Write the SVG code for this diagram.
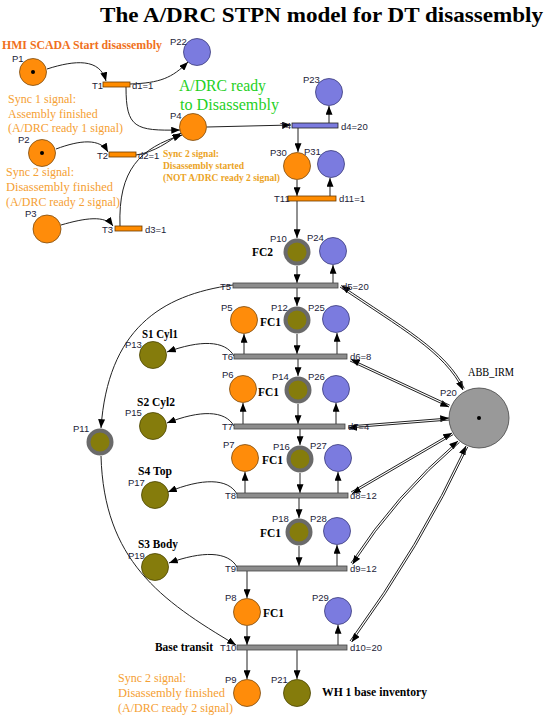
<svg xmlns="http://www.w3.org/2000/svg" width="550" height="719" viewBox="0 0 550 719">
<defs>
<marker id="ah" viewBox="0 0 10 8" markerWidth="9" markerHeight="7" refX="10" refY="4" markerUnits="userSpaceOnUse" orient="auto-start-reverse">
<path d="M0,0 L10,4 L0,8 z" fill="#000"/>
</marker>
<style>
.lbl{font-family:"Liberation Sans",Arial,sans-serif;font-size:9.5px;fill:#1c1c38}
.or{fill:#ff8c0a;stroke:#7a4a10;stroke-width:0.8}
.bl{fill:#7b7bdf;stroke:#3a3a7a;stroke-width:0.8}
.ol{fill:#857c0c;stroke:#4a4400;stroke-width:0.8}
.olt{fill:#857c0c;stroke:#6a6a6a;stroke-width:4}
.gr{fill:#999;stroke:#444;stroke-width:0.8}
.tor{fill:#ff8c00;stroke:#6b3a00;stroke-width:0.8}
.tbl{fill:#7b7bdf;stroke:#222;stroke-width:0.8}
.tgr{fill:#8c8c8c;stroke:#444;stroke-width:0.8}
.tok{fill:#000}
.c{fill:none;stroke:#222;stroke-width:1;marker-end:url(#ah)}
.cr{fill:none;stroke:#222;stroke-width:1;marker-start:url(#ah)}
.sb{font-family:"Liberation Serif","Times New Roman",serif;font-weight:bold;fill:#000}
.sync{font-family:"Liberation Serif","Times New Roman",serif;font-size:12px;fill:#f5a033}
</style>
</defs>
<rect width="550" height="719" fill="#fff"/>

<text x="100" y="22" class="sb" font-size="21" textLength="443" lengthAdjust="spacingAndGlyphs">The A/DRC STPN model for DT disassembly</text>

<g id="annotations">
<text x="2" y="49" font-family="Liberation Serif,serif" font-weight="bold" font-size="12" fill="#f07020" textLength="160" lengthAdjust="spacingAndGlyphs">HMI SCADA Start disassembly</text>
<text class="sync" x="8" y="103">Sync 1 signal:</text>
<text class="sync" x="8" y="117.5">Assembly finished</text>
<text class="sync" x="8" y="132" textLength="115" lengthAdjust="spacingAndGlyphs">(A/DRC ready 1 signal)</text>
<text class="sync" x="6" y="176">Sync 2 signal:</text>
<text class="sync" x="6" y="191" textLength="107" lengthAdjust="spacingAndGlyphs">Disassembly finished</text>
<text class="sync" x="6" y="206" textLength="114" lengthAdjust="spacingAndGlyphs">(A/DRC ready 2 signal)</text>
<text x="179" y="91" font-family="Liberation Serif,serif" font-size="16" fill="#1fd01f" textLength="87" lengthAdjust="spacingAndGlyphs">A/DRC ready</text>
<text x="180" y="110" font-family="Liberation Serif,serif" font-size="16" fill="#1fd01f" textLength="99" lengthAdjust="spacingAndGlyphs">to Disassembly</text>
<text x="163" y="157" font-family="Liberation Serif,serif" font-weight="bold" font-size="9.5" fill="#eba325">Sync 2 signal:</text>
<text x="163" y="169" font-family="Liberation Serif,serif" font-weight="bold" font-size="9.5" fill="#eba325">Disassembly started</text>
<text x="163" y="181" font-family="Liberation Serif,serif" font-weight="bold" font-size="9.5" fill="#eba325" textLength="117" lengthAdjust="spacingAndGlyphs">(NOT A/DRC ready 2 signal)</text>
<text class="sb" x="252" y="256" font-size="11.5">FC2</text>
<text class="sb" x="260" y="326" font-size="11.5">FC1</text>
<text class="sb" x="258" y="396" font-size="11.5">FC1</text>
<text class="sb" x="262" y="464" font-size="11.5">FC1</text>
<text class="sb" x="260" y="537" font-size="11.5">FC1</text>
<text class="sb" x="263" y="617" font-size="11.5">FC1</text>
<text class="sb" x="142" y="338" font-size="11.5" textLength="36" lengthAdjust="spacingAndGlyphs">S1 Cyl1</text>
<text class="sb" x="137" y="406" font-size="11.5" textLength="38" lengthAdjust="spacingAndGlyphs">S2 Cyl2</text>
<text class="sb" x="138" y="475" font-size="11.5" textLength="34" lengthAdjust="spacingAndGlyphs">S4 Top</text>
<text class="sb" x="138" y="548" font-size="11.5" textLength="40" lengthAdjust="spacingAndGlyphs">S3 Body</text>
<text class="sb" x="155" y="651" font-size="11.5" textLength="58" lengthAdjust="spacingAndGlyphs">Base transit</text>
<text class="sb" x="322" y="696" font-size="11.5" textLength="105" lengthAdjust="spacingAndGlyphs">WH 1 base inventory</text>
<text x="468" y="376" font-family="Liberation Serif,serif" font-size="11.5" fill="#000" textLength="46" lengthAdjust="spacingAndGlyphs">ABB_IRM</text>
<text class="sync" x="118" y="682">Sync 2 signal:</text>
<text class="sync" x="118" y="697" textLength="107" lengthAdjust="spacingAndGlyphs">Disassembly finished</text>
<text class="sync" x="118" y="712" textLength="115" lengthAdjust="spacingAndGlyphs">(A/DRC ready 2 signal)</text>
</g>

<g id="connectors">
<path class="c" d="M47,69 C75,60 100,58 106,81"/>
<path class="c" d="M130,84 C160,83 172,78 188,62"/>
<path class="c" d="M126,87 C126,128 135,131 180,130"/>
<path class="c" d="M56,149 C80,140 100,138 108,152"/>
<path class="c" d="M136,155 C155,152 168,142 181,133"/>
<path class="c" d="M61,225 C85,218 105,215 113,226"/>
<path class="c" d="M120,226 C118,170 140,148 182,135"/>
<path class="c" d="M207,127 L291,125"/>
<path class="c" d="M329,123 L329,106"/>
<path class="c" d="M298,128 L298,152"/>
<path class="c" d="M297,180 L297,196"/>
<path class="c" d="M330,196 L330,178"/>
<path class="c" d="M297,201 L297,238"/>
<path class="c" d="M297,266 L297,283"/>
<path class="c" d="M333,283 L333,265"/>
<path class="c" d="M297,288 L297,306"/>
<path class="c" d="M233,285 C160,295 108,330 101,428"/>
<path class="c" d="M101,456 C104,560 160,600 236,645"/>
<path class="c" d="M234,356 C225,340 200,340 167,352"/>
<path class="c" d="M244,354 L244,334"/>
<path class="c" d="M337,354 L337,333"/>
<path class="c" d="M297,334 L297,354"/>
<path class="c" d="M298,359 L298,376"/>
<path class="c" d="M234,426 C225,410 200,410 167,423"/>
<path class="c" d="M243,424 L243,403"/>
<path class="c" d="M336,424 L336,403"/>
<path class="c" d="M298,404 L298,424"/>
<path class="c" d="M300,429 L300,445"/>
<path class="c" d="M237,494 C228,478 202,478 168,492"/>
<path class="c" d="M245,493 L245,472"/>
<path class="c" d="M338,493 L338,472"/>
<path class="c" d="M300,473 L300,493"/>
<path class="c" d="M299,498 L299,518"/>
<path class="c" d="M237,567 C228,551 202,551 169,563"/>
<path class="c" d="M337,566 L337,545"/>
<path class="c" d="M299,546 L299,566"/>
<path class="c" d="M247,571 L247,598"/>
<path class="c" d="M247,626 L247,645"/>
<path class="c" d="M338,645 L338,625"/>
<path class="c" d="M247,650 L247,679"/>
<path class="c" d="M297,650 L297,679"/>
<path class="c" d="M340,287 C400,328 445,352 463,390"/>
<path class="cr" d="M340,287 C400,328 445,352 463,390" transform="translate(1.3,-1.5)"/>
<path class="c" d="M350,361 L449,407"/>
<path class="cr" d="M350,361 L449,407" transform="translate(0.8,-1.8)"/>
<path class="c" d="M348,426 L449,418"/>
<path class="cr" d="M348,426 L449,418" transform="translate(0.2,2)"/>
<path class="c" d="M351,492 L452,433"/>
<path class="cr" d="M351,492 L452,433" transform="translate(1,1.7)"/>
<path class="c" d="M351,563 Q395,495 458,441"/>
<path class="cr" d="M351,563 Q395,495 458,441" transform="translate(1.5,1.3)"/>
<path class="c" d="M350,641 Q420,545 466,446"/>
<path class="cr" d="M350,641 Q420,545 466,446" transform="translate(1.7,1)"/>
</g>

<g id="P1"><circle class="or" cx="33" cy="72" r="13.5"/><circle class="tok" cx="33" cy="72" r="2"/><text class="lbl" x="12" y="62">P1</text></g>
<g id="P22"><circle class="bl" cx="197" cy="52" r="13.5"/><text class="lbl" x="170" y="45">P22</text></g>
<g id="P4"><circle class="or" cx="193" cy="127" r="13.5"/><text class="lbl" x="170" y="119">P4</text></g>
<g id="P2"><circle class="or" cx="42" cy="153" r="13.5"/><circle class="tok" cx="42" cy="153" r="2"/><text class="lbl" x="18" y="143">P2</text></g>
<g id="P3"><circle class="or" cx="47" cy="229" r="14"/><text class="lbl" x="25" y="217">P3</text></g>
<g id="P23"><circle class="bl" cx="329" cy="92" r="13.5"/><text class="lbl" x="303" y="83">P23</text></g>
<g id="P30"><circle class="or" cx="297" cy="166" r="13.5"/><text class="lbl" x="270" y="156">P30</text></g>
<g id="P31"><circle class="bl" cx="331" cy="164" r="13.5"/><text class="lbl" x="304" y="155">P31</text></g>
<g id="P10"><circle class="olt" cx="297" cy="252" r="11.5"/><text class="lbl" x="270" y="242">P10</text></g>
<g id="P24"><circle class="bl" cx="333" cy="251" r="13.5"/><text class="lbl" x="307" y="241">P24</text></g>
<g id="P5"><circle class="or" cx="244" cy="320" r="13.5"/><text class="lbl" x="221" y="311">P5</text></g>
<g id="P12"><circle class="olt" cx="297" cy="320" r="11.5"/><text class="lbl" x="271" y="311">P12</text></g>
<g id="P25"><circle class="bl" cx="336" cy="319" r="13.5"/><text class="lbl" x="308" y="311">P25</text></g>
<g id="P13"><circle class="ol" cx="153" cy="355" r="13.5"/><text class="lbl" x="125" y="348">P13</text></g>
<g id="P6"><circle class="or" cx="243" cy="389" r="13.5"/><text class="lbl" x="222" y="378">P6</text></g>
<g id="P14"><circle class="olt" cx="298" cy="390" r="11.5"/><text class="lbl" x="272" y="380">P14</text></g>
<g id="P26"><circle class="bl" cx="336" cy="389" r="13.5"/><text class="lbl" x="308" y="380">P26</text></g>
<g id="P15"><circle class="ol" cx="153" cy="426" r="13.5"/><text class="lbl" x="125" y="416">P15</text></g>
<g id="P7"><circle class="or" cx="245" cy="458" r="13.5"/><text class="lbl" x="223" y="448">P7</text></g>
<g id="P16"><circle class="olt" cx="300" cy="459" r="11.5"/><text class="lbl" x="273" y="450">P16</text></g>
<g id="P27"><circle class="bl" cx="338" cy="458" r="13.5"/><text class="lbl" x="310" y="449">P27</text></g>
<g id="P11"><circle class="olt" cx="100" cy="442" r="11.5"/><text class="lbl" x="73" y="432">P11</text></g>
<g id="P17"><circle class="ol" cx="155" cy="495" r="13.5"/><text class="lbl" x="128" y="486">P17</text></g>
<g id="P18"><circle class="olt" cx="299" cy="532" r="11.5"/><text class="lbl" x="272" y="522">P18</text></g>
<g id="P28"><circle class="bl" cx="337" cy="531" r="13.5"/><text class="lbl" x="310" y="522">P28</text></g>
<g id="P19"><circle class="ol" cx="155" cy="567" r="13.5"/><text class="lbl" x="128" y="559">P19</text></g>
<g id="P8"><circle class="or" cx="247" cy="612" r="13.5"/><text class="lbl" x="225" y="601">P8</text></g>
<g id="P29"><circle class="bl" cx="338" cy="611" r="13.5"/><text class="lbl" x="312" y="601">P29</text></g>
<g id="P9"><circle class="or" cx="247" cy="693" r="13.5"/><text class="lbl" x="225" y="683">P9</text></g>
<g id="P21"><circle class="ol" cx="297" cy="693" r="13.5"/><text class="lbl" x="271" y="683">P21</text></g>
<g id="P20"><circle class="gr" cx="479" cy="418" r="30"/><circle class="tok" cx="479" cy="418" r="2"/><text class="lbl" x="440" y="396">P20</text></g>

<g id="T1"><rect class="tor" x="103" y="82" width="27" height="5"/><text class="lbl" x="92" y="89">T1</text><text class="lbl" x="132" y="89">d1=1</text></g>
<g id="T2"><rect class="tor" x="109" y="152" width="27" height="5"/><text class="lbl" x="97" y="159">T2</text><text class="lbl" x="138" y="159">d2=1</text></g>
<g id="T3"><rect class="tor" x="115" y="226" width="27" height="5"/><text class="lbl" x="102" y="233">T3</text><text class="lbl" x="145" y="233">d3=1</text></g>
<g id="T4"><rect class="tbl" x="292" y="123" width="46" height="5"/><text class="lbl" x="280" y="129">T4</text><text class="lbl" x="341" y="130">d4=20</text></g>
<g id="T11"><rect class="tor" x="288" y="196" width="48" height="5"/><text class="lbl" x="274" y="202">T11</text><text class="lbl" x="339" y="202">d11=1</text></g>
<g id="T5"><rect class="tgr" x="233" y="283" width="105" height="5"/><text class="lbl" x="220" y="290">T5</text><text class="lbl" x="342" y="290">d5=20</text></g>
<g id="T6"><rect class="tgr" x="234" y="354" width="113" height="5"/><text class="lbl" x="222" y="360">T6</text><text class="lbl" x="350" y="360">d6=8</text></g>
<g id="T7"><rect class="tgr" x="234" y="424" width="111" height="5"/><text class="lbl" x="222" y="430">T7</text><text class="lbl" x="348" y="430">d7=4</text></g>
<g id="T8"><rect class="tgr" x="237" y="493" width="111" height="5"/><text class="lbl" x="225" y="499">T8</text><text class="lbl" x="350" y="499">d8=12</text></g>
<g id="T9"><rect class="tgr" x="237" y="566" width="110" height="5"/><text class="lbl" x="225" y="572">T9</text><text class="lbl" x="350" y="572">d9=12</text></g>
<g id="T10"><rect class="tgr" x="237" y="645" width="110" height="5"/><text class="lbl" x="220" y="651">T10</text><text class="lbl" x="350" y="651">d10=20</text></g>
</svg>
